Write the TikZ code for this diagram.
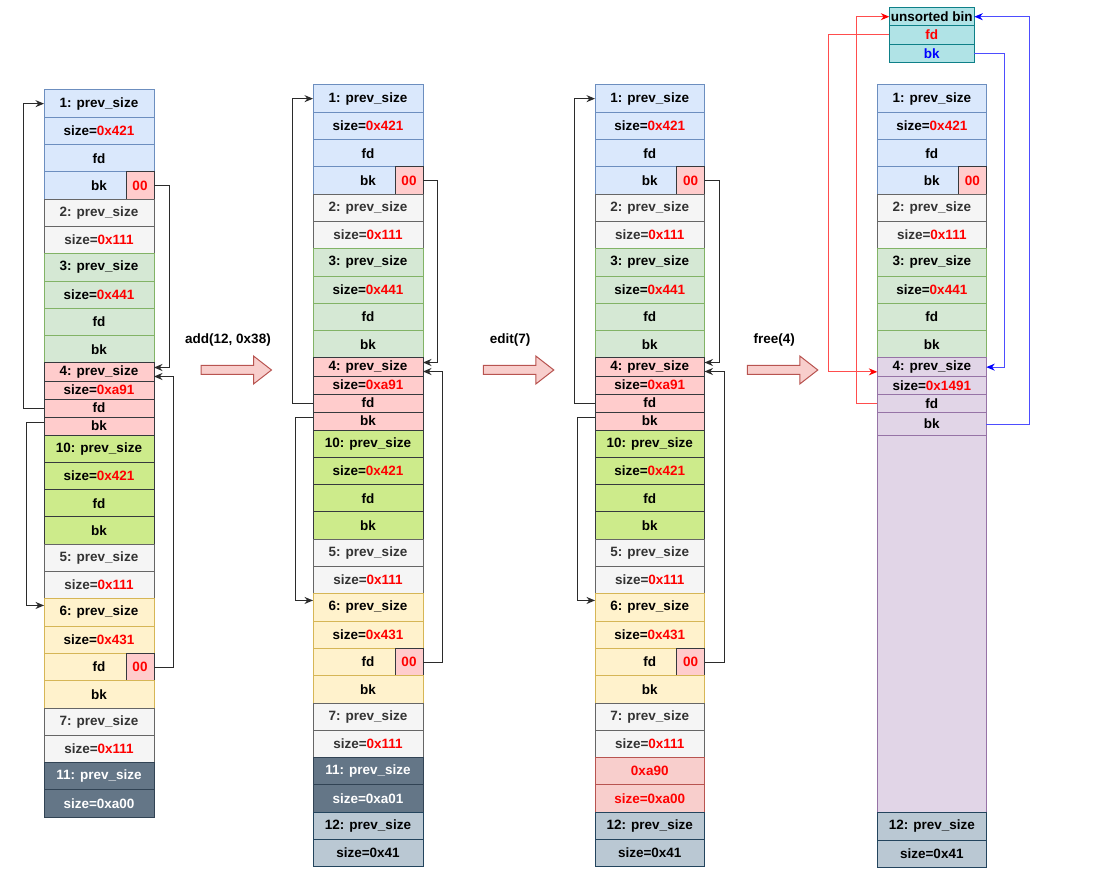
\documentclass[tikz,border=0pt]{standalone}
\usepackage{fontspec}
\setmainfont{Liberation Sans}
\usetikzlibrary{arrows.meta}
\definecolor{bluef}{HTML}{DAE8FC}\definecolor{blued}{HTML}{6C8EBF}
\definecolor{grayf}{HTML}{F5F5F5}\definecolor{grayd}{HTML}{666666}\definecolor{grayt}{HTML}{333333}
\definecolor{greenf}{HTML}{D5E8D4}\definecolor{greend}{HTML}{82B366}
\definecolor{pinkf}{HTML}{FFCCCC}\definecolor{darkd}{HTML}{36393D}
\definecolor{limef}{HTML}{CDEB8B}
\definecolor{yellowf}{HTML}{FFF2CC}\definecolor{yellowd}{HTML}{D6B656}
\definecolor{slatef}{HTML}{647687}\definecolor{slated}{HTML}{314354}
\definecolor{steelf}{HTML}{BAC8D3}\definecolor{steeld}{HTML}{23445D}
\definecolor{redf}{HTML}{F8CECC}\definecolor{redd}{HTML}{B85450}
\definecolor{purplef}{HTML}{E1D5E7}\definecolor{purpled}{HTML}{9673A6}
\definecolor{tealf}{HTML}{B0E3E6}\definecolor{teald}{HTML}{0E8088}
\definecolor{hexred}{HTML}{FF0000}\definecolor{hexblue}{HTML}{0000FF}
\definecolor{linkred}{HTML}{FF4D4D}\definecolor{linkblue}{HTML}{4D4DFF}
\definecolor{linkgray}{HTML}{2B2B2B}
\newcommand\hx[1]{\textcolor{hexred}{#1}}
\tikzset{
  cell/.style={draw, rectangle, inner sep=0pt, outer sep=0pt, anchor=north west,
    font=\fontsize{13.5}{16}\selectfont\bfseries, line width=1pt},
  cblue/.style={fill=bluef, draw=blued},
  cgray/.style={fill=grayf, draw=grayd, text=grayt},
  cgreen/.style={fill=greenf, draw=greend},
  cpink/.style={fill=pinkf, draw=darkd},
  clime/.style={fill=limef, draw=darkd},
  cyellow/.style={fill=yellowf, draw=yellowd},
  cslate/.style={fill=slatef, draw=slated, text=white},
  csteel/.style={fill=steelf, draw=steeld},
  cred/.style={fill=redf, draw=redd},
  cpurple/.style={fill=purplef, draw=purpled},
  cteal/.style={fill=tealf, draw=teald},
  zerobox/.style={cell, cpink, minimum width=28pt, minimum height=27.3pt, anchor=north east},
  conn/.style={draw=linkgray, line width=1pt, -{Stealth[length=8.5pt,width=7pt]}},
  lred/.style={draw=linkred, line width=1pt, -{Stealth[length=8.5pt,width=7pt,color=red]}},
  lblue/.style={draw=linkblue, line width=1pt, -{Stealth[length=8.5pt,width=7pt,color=blue]}},
  bigarrow/.style={fill=redf, draw=redd, line width=1pt},
  lbl/.style={font=\fontsize{13.5}{16}\selectfont\bfseries, inner sep=0pt}
}
\newcommand\crow[4]{%
  \node[cell,#3,minimum width=\colw pt,minimum height=#2pt] (#1) at (\colx,\cury) {#4};%
  \pgfmathsetmacro\tmpy{\cury+#2}\global\let\cury\tmpy}
\newcommand\rowsTop[1]{%
  \crow{#1p1}{27.3}{cblue}{1: prev\_size}%
  \crow{#1s1}{27.3}{cblue}{size=\hx{0x421}}%
  \crow{#1f1}{27.3}{cblue}{fd}%
  \crow{#1b1}{27.3}{cblue}{bk}%
  \node[zerobox] (#1z1) at (#1b1.north east) {\hx{00}};%
  \crow{#1p2}{27.3}{cgray}{2: prev\_size}%
  \crow{#1s2}{27.3}{cgray}{size=\hx{0x111}}%
  \crow{#1p3}{27.3}{cgreen}{3: prev\_size}%
  \crow{#1s3}{27.3}{cgreen}{size=\hx{0x441}}%
  \crow{#1f3}{27.3}{cgreen}{fd}%
  \crow{#1b3}{27.3}{cgreen}{bk}}
\newcommand\rowsFour[1]{%
  \crow{#1p4}{18}{cpink}{4: prev\_size}%
  \crow{#1s4}{18}{cpink}{size=\hx{0xa91}}%
  \crow{#1f4}{18}{cpink}{fd}%
  \crow{#1b4}{18}{cpink}{bk}}
\newcommand\rowsMid[1]{%
  \crow{#1p10}{27.3}{clime}{10: prev\_size}%
  \crow{#1s10}{27.3}{clime}{size=\hx{0x421}}%
  \crow{#1f10}{27.3}{clime}{fd}%
  \crow{#1b10}{27.3}{clime}{bk}%
  \crow{#1p5}{27.3}{cgray}{5: prev\_size}%
  \crow{#1s5}{27.3}{cgray}{size=\hx{0x111}}%
  \crow{#1p6}{27.3}{cyellow}{6: prev\_size}%
  \crow{#1s6}{27.3}{cyellow}{size=\hx{0x431}}%
  \crow{#1f6}{27.3}{cyellow}{fd}%
  \node[zerobox] (#1z6) at (#1f6.north east) {\hx{00}};%
  \crow{#1b6}{27.3}{cyellow}{bk}%
  \crow{#1p7}{27.3}{cgray}{7: prev\_size}%
  \crow{#1s7}{27.3}{cgray}{size=\hx{0x111}}}
\newcommand\bigarr[1]{%
  \path[bigarrow] (#1,365.5) -- (#1+52.5,365.5) -- (#1+52.5,356) -- (#1+70.5,370)
    -- (#1+52.5,384) -- (#1+52.5,374.5) -- (#1,374.5) -- cycle;}
\begin{document}
\begin{tikzpicture}[x=1pt,y=-1pt]
\useasboundingbox (0,0) rectangle (1108,890);
\fill[white] (0,0) rectangle (1108,890);
% column 1
\def\colx{44}\def\colw{110}\gdef\cury{90}
\rowsTop{a}\rowsFour{a}\rowsMid{a}
\crow{ap11}{27.3}{cslate}{11: prev\_size}
\crow{as11}{27.3}{cslate}{size=0xa00}
% column 2
\def\colx{313}\def\colw{110}\gdef\cury{85}
\rowsTop{b}\rowsFour{b}\rowsMid{b}
\crow{bp11}{27.3}{cslate}{11: prev\_size}
\crow{bs11}{27.3}{cslate}{size=0xa01}
\crow{bp12}{27.3}{csteel}{12: prev\_size}
\crow{bs12}{27.3}{csteel}{size=0x41}
% column 3
\def\colx{595}\def\colw{109.5}\gdef\cury{85}
\rowsTop{c}\rowsFour{c}\rowsMid{c}
\crow{cp11}{27.3}{cred}{\hx{0xa90}}
\crow{cs11}{27.3}{cred}{\hx{size=0xa00}}
\crow{cp12}{27.3}{csteel}{12: prev\_size}
\crow{cs12}{27.3}{csteel}{size=0x41}
% column 4
\def\colx{877.3}\def\colw{109}\gdef\cury{85}
\rowsTop{d}
\crow{dp4}{18.3}{cpurple}{4: prev\_size}
\crow{ds4}{18.3}{cpurple}{size=\hx{0x1491}}
\crow{df4}{18.3}{cpurple}{fd}
\crow{db4}{22.5}{cpurple}{bk}
\crow{dfree}{377.3}{cpurple}{}
\crow{dp12}{27.3}{csteel}{12: prev\_size}
\crow{ds12}{27.3}{csteel}{size=0x41}
% unsorted bin
\def\colx{889.3}\def\colw{85}\gdef\cury{7.5}
\crow{ub}{18.4}{cteal}{unsorted bin}
\crow{ubf}{18.2}{cteal}{\textcolor{hexred}{fd}}
\crow{ubk}{18.2}{cteal}{\textcolor{hexblue}{bk}}
% operation arrows
\bigarr{201}
\bigarr{483.3}
\bigarr{747.3}
\node[lbl] (t1) at (228,340) {add(12, 0x38)};
\node[lbl] (t2) at (510,340) {edit(7)};
\node[lbl] (t3) at (774.3,340) {free(4)};
% links, columns 1-3
\foreach \c/\r/\s in {a/15/19, b/14/19, c/15/20}{
  \draw[conn] (\c z1.east) -- ++(\r,0) |- ([yshift=4.5pt]\c p4.east);
  \draw[conn] (\c z6.east) -- ++(\s,0) |- ([yshift=-4.5pt]\c p4.east);
  \draw[conn] (\c f4.west) -- ++(-21,0) |- (\c p1.west);
  \draw[conn] ([yshift=4pt]\c b4.west) -- ++(-18,0) |- ([yshift=7pt]\c p6.west);
}
% links, column 4
\draw[lred] (ubf.west) -- ++(-61,0) |- ([yshift=-4.7pt]dp4.west);
\draw[lred] (df4.west) -- ++(-21,0) |- (ub.west);
\draw[lblue] (ubk.east) -- ++(30,0) |- (dp4.east);
\draw[lblue] (db4.east) -- ++(43,0) |- (ub.east);
\end{tikzpicture}
\end{document}
